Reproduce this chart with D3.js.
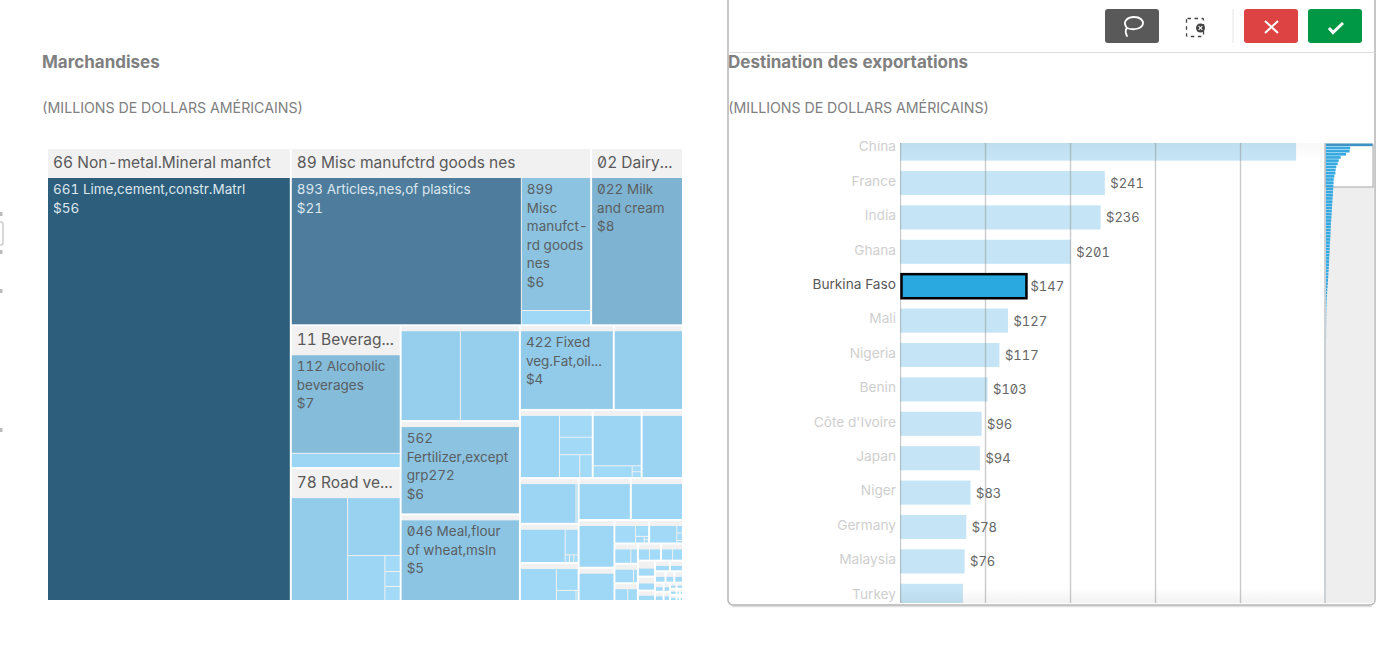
<!DOCTYPE html>
<html>
<head>
<meta charset="utf-8">
<script src="https://cdn.jsdelivr.net/npm/d3@7"></script>
<style>
  body { margin: 0; background: #fff; overflow: hidden; }
  text { font-family: Inter, Roboto, sans-serif; font-variant-numeric: tabular-nums slashed-zero; }
</style>
</head>
<body>
<script>
// Treemap data: group headers, leaf values per group, and the leaf labels that are shown
const groupNames = ["66 Non-metal.Mineral manfct", "89 Misc manufctrd goods nes", "02 Dairy...", "11 Beverag...", "78 Road ve..."];
const groupLeaves = [
    [55.6], [20.6, 5.6, 0.6], [8.2], [6.9, 1], [3.8, 2, 1.1, 0.16, 0.15, 0.14],
    [2.88, 2.87], [5.6], [5.2], [4], [2.95],
    [1.36, 0.4, 0.32, 0.26, 0.16], [1.36, 0.26, 0.03, 0.03], [1.42], [1.3, 0.05],
    [0.9, 0.2, 0.02, 0.02, 0.02], [0.7, 0.29, 0.12, 0.013], [1.1], [1.1], [0.86], [0.6],
    [0.25, 0.1, 0.04, 0.01, 0.01], [0.33, 0.03, 0.03, 0.01], [0.17, 0.07], [0.19, 0.04],
    [0.12, 0.09], [0.1, 0.1], [0.1, 0.09], [0.137], [0.12], [0.09], [0.08], [0.07], [0.06],
    [0.05], [0.05], [0.04], [0.04], [0.03], [0.03], [0.02], [0.02], [0.02], [0.02],
    [0.01], [0.01], [0.01], [0.01]
];
const leafLabels = [
    [0, 0, ["661 Lime,cement,constr.Matrl"]],
    [1, 0, ["893 Articles,nes,of plastics"]],
    [1, 1, ["899", "Misc", "manufct-", "rd goods", "nes"]],
    [2, 0, ["022 Milk", "and cream"]],
    [3, 0, ["112 Alcoholic", "beverages"]],
    [6, 0, ["562", "Fertilizer,except", "grp272"]],
    [7, 0, ["046 Meal,flour", "of wheat,msln"]],
    [8, 0, ["422 Fixed", "veg.Fat,oil..."]]
];

// Bar chart data
const countries = ["China", "France", "India", "Ghana", "Burkina Faso", "Mali", "Nigeria", "Benin", "Côte d'Ivoire", "Japan", "Niger", "Germany", "Malaysia", "Turkey"];
const exportValues = [466, 241, 236, 201, 147, 127, 117, 103, 96, 94, 83, 78, 76, 74];
const selectedCountry = "Burkina Faso";
const gridTicks = [0, 100, 200, 300, 400, 500];
// scroll overview: same ranking, continued past the rows in view
const overviewValues = exportValues.concat([72, 70, 69, 66, 64, 62, 60, 58, 56, 54, 52, 50, 48, 47, 45, 44, 42, 40, 38, 37, 36, 34, 32, 31, 30, 28, 26, 24, 22, 20, 18, 16, 13, 11, 9, 7, 6, 5, 4, 3, 3, 2, 2, 2, 1, 1, 1, 1]);
const overviewRows = 146;

const svg = d3.select("body").append("svg")
    .attr("width", 1378)
    .attr("height", 658);

const defs = svg.append("defs");
defs.append("clipPath").attr("id", "bars-clip")
    .append("rect").attr("x", 900).attr("y", 143).attr("width", 425).attr("height", 460);
defs.append("clipPath").attr("id", "labels-clip")
    .append("rect").attr("x", 780).attr("y", 141).attr("width", 545).attr("height", 462);

const fadeTop = defs.append("linearGradient").attr("id", "fade-top").attr("x2", 0).attr("y2", 1);
fadeTop.append("stop").attr("offset", 0).attr("stop-color", "#000").attr("stop-opacity", 0.03);
fadeTop.append("stop").attr("offset", 1).attr("stop-color", "#000").attr("stop-opacity", 0);
const fadeBottom = defs.append("linearGradient").attr("id", "fade-bottom").attr("x2", 0).attr("y2", 1);
fadeBottom.append("stop").attr("offset", 0).attr("stop-color", "#000").attr("stop-opacity", 0);
fadeBottom.append("stop").attr("offset", 1).attr("stop-color", "#000").attr("stop-opacity", 0.05);

// Bits of a neighbouring object cut off by the left edge
const edge = svg.append("g").attr("fill", "#bbb");
edge.append("rect").attr("x", -4).attr("y", 222).attr("width", 7).attr("height", 23).attr("rx", 2)
    .attr("fill", "none").attr("stroke", "#ccc").attr("stroke-width", 1.5);
[212, 250, 289, 428].forEach(y => edge.append("rect").attr("x", 0).attr("y", y).attr("width", 2.5).attr("height", 4));

function titles(x, title) {
    svg.append("text").attr("x", x).attr("y", 68)
        .attr("font-size", 17).attr("font-weight", 700).attr("fill", "#808080")
        .text(title);
    svg.append("text").attr("x", x).attr("y", 113)
        .attr("font-size", 14.2).attr("fill", "#808080")
        .text("(MILLIONS DE DOLLARS AMÉRICAINS)");
}

// ---- Treemap ----
const rootData = {
    children: groupLeaves.map((leaves, i) => ({
        name: groupNames[i] || "",
        children: leaves.map((v, j) => {
            const label = leafLabels.find(l => l[0] === i && l[1] === j);
            return { value: v, lines: label ? label[2] : null };
        })
    }))
};

const root = d3.hierarchy(rootData)
    .sum(d => d.value || 0)
    .sort((a, b) => b.value - a.value);

d3.treemap()
    .size([634, 451])
    .tile(d3.treemapSquarify.ratio(1))
    .paddingInner(d => d.depth === 0 ? 2 : 1)
    .paddingTop(d => {
        if (d.depth !== 1) return 0;
        if (d.data.name) return 29;
        const h = d.y1 - d.y0;
        return h < 15 ? h * 0.5 : 5;
    })(root);

const leafColor = d3.scaleLinear()
    .domain([0, 1, 4, 6, 8, 21, 56])
    .range(["#a3dbf8", "#9dd6f5", "#91cbe9", "#89c1df", "#7fb5d3", "#4b7a9b", "#2d5e7c"]);

const treemap = svg.append("g").attr("transform", "translate(48,149)");

treemap.selectAll(".group")
    .data(root.children)
    .enter()
    .append("rect")
    .attr("class", "group")
    .attr("x", d => d.x0)
    .attr("y", d => d.y0)
    .attr("width", d => d.x1 - d.x0)
    .attr("height", d => d.y1 - d.y0)
    .attr("fill", "#f1f1f1");

treemap.selectAll(".group-label")
    .data(root.children.filter(d => d.data.name))
    .enter()
    .append("text")
    .attr("class", "group-label")
    .attr("x", d => d.x0 + 5)
    .attr("y", d => d.y0 + 19)
    .attr("font-size", 15.5)
    .attr("fill", "#595959")
    .text(d => d.data.name);

treemap.selectAll(".leaf")
    .data(root.leaves())
    .enter()
    .append("rect")
    .attr("class", "leaf")
    .attr("x", d => d.x0)
    .attr("y", d => d.y0)
    .attr("width", d => Math.max(0, d.x1 - d.x0))
    .attr("height", d => Math.max(0, d.y1 - d.y0))
    .attr("fill", d => leafColor(d.data.value));

const labelled = treemap.selectAll(".leaf-label")
    .data(root.leaves().filter(d => d.data.lines))
    .enter()
    .append("text")
    .attr("class", "leaf-label")
    .attr("font-size", 13.5)
    .attr("fill", d => d.data.value > 15 ? "#dde7ee" : "#5a5f63");

labelled.selectAll("tspan")
    .data(d => d.data.lines.concat("$" + Math.round(d.data.value)).map(t => ({ t, x: d.x0 + 5, y: d.y0 })))
    .enter()
    .append("tspan")
    .attr("x", d => d.x)
    .attr("y", (d, i) => d.y + 16 + i * 18.5)
    .text(d => d.t);

titles(42, "Marchandises");

// ---- Selection panel around the bar chart ----
svg.append("line")
    .attr("x1", 732).attr("x2", 1372).attr("y1", 606.5).attr("y2", 606.5)
    .attr("stroke", "#dedede").attr("stroke-width", 1.5);
svg.append("rect")
    .attr("x", 728).attr("y", -6).attr("width", 647).attr("height", 611).attr("rx", 5)
    .attr("fill", "#fff").attr("stroke", "#b4b4b4").attr("stroke-width", 1.5);
svg.append("line")
    .attr("x1", 728).attr("x2", 1375).attr("y1", 52.5).attr("y2", 52.5)
    .attr("stroke", "#ddd");

const toolbar = svg.append("g");
toolbar.append("rect").attr("x", 1105).attr("y", 9).attr("width", 54).attr("height", 34).attr("rx", 3).attr("fill", "#595959");
toolbar.append("path")
    .attr("d", "M1127 36 C1125 32 1125 30 1127 28 C1122 22 1127 17 1134 17 C1141 17 1143 21 1143 23 C1143 28 1135 31 1127 28")
    .attr("fill", "none").attr("stroke", "#fff").attr("stroke-width", 1.8).attr("stroke-linecap", "round");
toolbar.append("rect").attr("x", 1186.5).attr("y", 18.5).attr("width", 17).attr("height", 18).attr("rx", 1)
    .attr("fill", "none").attr("stroke", "#444").attr("stroke-width", 1.3).attr("stroke-dasharray", "3.5 3.5");
toolbar.append("circle").attr("cx", 1200.5).attr("cy", 28).attr("r", 4.5).attr("fill", "#444");
toolbar.append("path").attr("d", "M1198.7 26.2 L1202.3 29.8 M1202.3 26.2 L1198.7 29.8").attr("stroke", "#fff").attr("stroke-width", 1.1);
toolbar.append("line").attr("x1", 1233).attr("x2", 1233).attr("y1", 9).attr("y2", 43).attr("stroke", "#e6e6e6");
toolbar.append("rect").attr("x", 1244).attr("y", 9).attr("width", 54).attr("height", 34).attr("rx", 3).attr("fill", "#dd4343");
toolbar.append("path").attr("d", "M1265 21 L1278 33 M1278 21 L1265 33").attr("stroke", "#fff").attr("stroke-width", 2);
toolbar.append("rect").attr("x", 1308).attr("y", 9).attr("width", 54).attr("height", 34).attr("rx", 3).attr("fill", "#009845");
toolbar.append("path").attr("d", "M1329 28 L1333 32.5 L1343 23").attr("fill", "none").attr("stroke", "#fff").attr("stroke-width", 3);

titles(728, "Destination des exportations");

// ---- Bar chart ----
const xScale = d3.scaleLinear().domain([0, 500]).range([900, 1325]);
const yScale = d3.scaleBand()
    .domain(countries)
    .range([131.4, 613])
    .paddingInner(0.3)
    .paddingOuter(0.15);

const chart = svg.append("g").attr("clip-path", "url(#bars-clip)");
const rows = countries.map((c, i) => ({ country: c, value: exportValues[i] }));

chart.selectAll(".bar")
    .data(rows.filter(d => d.country !== selectedCountry))
    .enter()
    .append("rect")
    .attr("class", "bar")
    .attr("x", xScale(0))
    .attr("y", d => yScale(d.country))
    .attr("width", d => xScale(d.value) - xScale(0))
    .attr("height", yScale.bandwidth())
    .attr("fill", "#c5e5f6");

// Grid runs over the faded bars but under the selected one
chart.append("g")
    .attr("transform", "translate(0,143)")
    .call(d3.axisBottom(xScale).tickValues(gridTicks).tickSize(460).tickFormat(""))
    .call(g => g.select(".domain").remove())
    .selectAll("line")
    .attr("stroke", "#8c8c8c")
    .attr("stroke-opacity", 0.45)
    .attr("stroke-width", 1.4);

chart.selectAll(".bar-selected")
    .data(rows.filter(d => d.country === selectedCountry))
    .enter()
    .append("rect")
    .attr("class", "bar-selected")
    .attr("x", xScale(0) + 1.5)
    .attr("y", d => yScale(d.country))
    .attr("width", d => xScale(d.value) - xScale(0))
    .attr("height", yScale.bandwidth())
    .attr("fill", "#29a9e0")
    .attr("stroke", "#000")
    .attr("stroke-width", 2.5);

const labels = svg.append("g").attr("clip-path", "url(#labels-clip)");

labels.append("g")
    .attr("transform", "translate(900,0)")
    .call(d3.axisLeft(yScale).tickSize(0).tickPadding(4))
    .call(g => g.select(".domain").remove())
    .selectAll("text")
    .attr("dy", "0.2em")
    .attr("font-family", "Inter, Roboto, sans-serif")
    .attr("font-size", 13.7)
    .attr("fill", d => d === selectedCountry ? "#595959" : "#cfcfcf");

// Only bars fully inside the scrolling area carry a value label
labels.selectAll(".value-label")
    .data(rows.filter(d => yScale(d.country) >= 143 && yScale(d.country) + yScale.bandwidth() <= 603))
    .enter()
    .append("text")
    .attr("class", "value-label")
    .attr("x", d => xScale(d.value) + 5.5)
    .attr("y", d => yScale(d.country) + yScale.bandwidth() / 2 + 5)
    .attr("font-size", 13)
    .attr("fill", "#666")
    .text(d => "$" + d.value);

svg.append("rect").attr("x", 900).attr("y", 143).attr("width", 425).attr("height", 16).attr("fill", "url(#fade-top)");
svg.append("rect").attr("x", 900).attr("y", 588).attr("width", 425).attr("height", 15).attr("fill", "url(#fade-bottom)");

// ---- Scroll overview on the right ----
const overviewX = d3.scaleLinear().domain([0, 500]).range([1326, 1376]);
const overviewY = d3.scaleBand().domain(d3.range(overviewRows)).range([143.5, 603.5]).paddingInner(0.15);

const overview = svg.append("g");
overview.append("rect").attr("x", 1325).attr("y", 143).attr("width", 49.2).attr("height", 460).attr("fill", "#eeeeee");
overview.append("rect").attr("x", 1325.5).attr("y", 145).attr("width", 47.5).attr("height", 42)
    .attr("fill", "#fff").attr("stroke", "#b5b5b5").attr("stroke-width", 1.2);
overview.selectAll(".mini-bar")
    .data(overviewValues)
    .enter()
    .append("rect")
    .attr("class", "mini-bar")
    .attr("x", overviewX(0))
    .attr("y", (d, i) => overviewY(i))
    .attr("width", d => overviewX(d) - overviewX(0))
    .attr("height", overviewY.bandwidth())
    .attr("fill", (d, i) => i === 0 ? "#3f93c4" : "#35a9e0");
overview.append("line")
    .attr("x1", 1325).attr("x2", 1325).attr("y1", 143).attr("y2", 603)
    .attr("stroke", "#bfc6cb").attr("stroke-width", 1.5);
</script>
</body>
</html>
